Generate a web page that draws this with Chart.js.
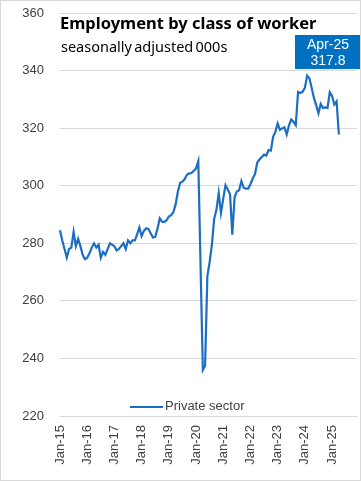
<!DOCTYPE html>
<html>
<head>
<meta charset="utf-8">
<script src="https://cdn.jsdelivr.net/npm/chart.js@4/dist/chart.umd.min.js"></script>
<style>
  body { margin: 0; background: #fff; }
  #wrap { position: relative; width: 361px; height: 481px; }
  #frame { position: absolute; left: 0; top: 0; width: 361px; height: 481px; box-sizing: border-box; border: 1px solid #d9d9d9; pointer-events: none; }
  #title { position: absolute; left: 60px; top: 11px; font: bold 16.5px "Noto Sans", sans-serif; color: #000; white-space: nowrap; }
  #subtitle { position: absolute; left: 61px; top: 36px; font: 14.5px "Noto Sans", sans-serif; color: #000; white-space: nowrap; word-spacing: -1.5px; }
  #callout { position: absolute; left: 295px; top: 35px; width: 66px; height: 34px; background: #0070c0; color: #fff; font: 14px "Liberation Sans", sans-serif; text-align: center; line-height: 16px; padding-top: 1px; box-sizing: border-box; }
  #legend { position: absolute; left: 130px; top: 398px; font: 13px "Liberation Sans", sans-serif; color: #404040; white-space: nowrap; }
  #legend i { display: inline-block; width: 33px; height: 2px; background: #1b6ec2; vertical-align: middle; margin-right: 2px; }
</style>
</head>
<body>
<div id="wrap">
  <canvas id="myEmploymentChart" width="361" height="481"></canvas>
  <div id="title">Employment by class of worker</div>
  <div id="subtitle">seasonally adjusted 000s</div>
  <div id="callout">Apr-25<br>317.8</div>
  <div id="legend"><i></i>Private sector</div>
  <div id="frame"></div>
</div>
<script>
  // month names and years for the category axis (axis runs on to Dec-25)
  const monthNames = ["Jan","Feb","Mar","Apr","May","Jun","Jul","Aug","Sep","Oct","Nov","Dec"];
  const years = ["15","16","17","18","19","20","21","22","23","24","25"];

  // private sector employment, 000s, Jan-15 .. Apr-25
  const privateSector = [
    284.5, 281, 278, 275, 278, 278.5, 284, 279, 281.5, 279, 276, 274.5,
    275, 276.5, 278.5, 280, 278.5, 279.5, 275, 277, 276, 278, 280, 279.5,
    279, 277.5, 278, 279, 280, 278, 281, 280, 281, 281, 283, 285.5,
    282.5, 284.3, 285.2, 285, 283.5, 282, 282.2, 285, 288.7, 287.5, 287.4, 288,
    289.3, 289.8, 290.8, 293.5, 298, 301, 301.4, 302.3, 303.8, 304.3, 304.4, 305.2,
    306, 308.5, 272, 236, 237.5, 268.5, 273.5, 279.5, 288.5, 291.6, 297.5, 290.5,
    295.5, 300.2, 298.7, 297, 283, 296, 298, 298.4, 301.6, 299.3, 299, 299,
    300.5, 302.5, 304, 308, 309.1, 310, 310.8, 310.5, 312.4, 312.2, 317, 318.7,
    321.6, 319.4, 319.9, 320.3, 317.8, 321, 323, 322.2, 321, 332.6, 332.2, 332.6,
    334, 338.2, 337.3, 334, 330.5, 328, 325.2, 328.4, 327, 327.2, 327, 332.5,
    331.2, 328.2, 329.3, 317.8
  ];

  const yTicks = [220, 240, 260, 280, 300, 320, 340, 360];

  let labels = [];
  years.forEach(function (yr) {
    monthNames.forEach(function (m) { labels.push(m + "-" + yr); });
  });

  let ctx = document.getElementById("myEmploymentChart").getContext('2d');
  let myEmploymentChart = new Chart(ctx, {
    type: 'line',
    data: {
      labels: labels,
      datasets: [{
        label: "Private sector",
        data: privateSector,
        borderColor: '#1b6ec2',
        borderWidth: 2.2,
        pointRadius: 0,
        tension: 0,
        fill: false
      }]
    },
    options: {
      responsive: false,
      devicePixelRatio: 1,
      animation: false,
      layout: { padding: { left: 0, right: 4, top: 13, bottom: 0 } },
      plugins: {
        legend: { display: false },
        tooltip: { enabled: false }
      },
      scales: {
        x: {
          type: 'category',
          offset: false,
          grid: { display: false, drawTicks: false },
          border: { display: true, color: '#d9d9d9' },
          afterFit: function (scale) { scale.height = 65; },
          ticks: {
            autoSkip: false,
            maxRotation: 90,
            minRotation: 90,
            padding: 9,
            color: '#404040',
            font: { family: 'Liberation Sans', size: 13 },
            callback: function (val, index) {
              return index % 12 === 0 ? labels[index] : null;
            }
          }
        },
        y: {
          min: yTicks[0],
          max: yTicks[yTicks.length - 1],
          afterFit: function (scale) {
            scale.width = 60;
            scale.paddingTop = 0;   // tick padding otherwise pushes the plot down
            scale.paddingBottom = 0;
          },
          afterBuildTicks: function (scale) {
            scale.ticks = yTicks.map(function (v) { return { value: v }; });
          },
          grid: { color: '#d9d9d9', drawTicks: false },
          border: { display: false },
          ticks: {
            padding: 16,
            color: '#404040',
            font: { family: 'Liberation Sans', size: 13 }
          }
        }
      }
    }
  });
</script>
</body>
</html>
